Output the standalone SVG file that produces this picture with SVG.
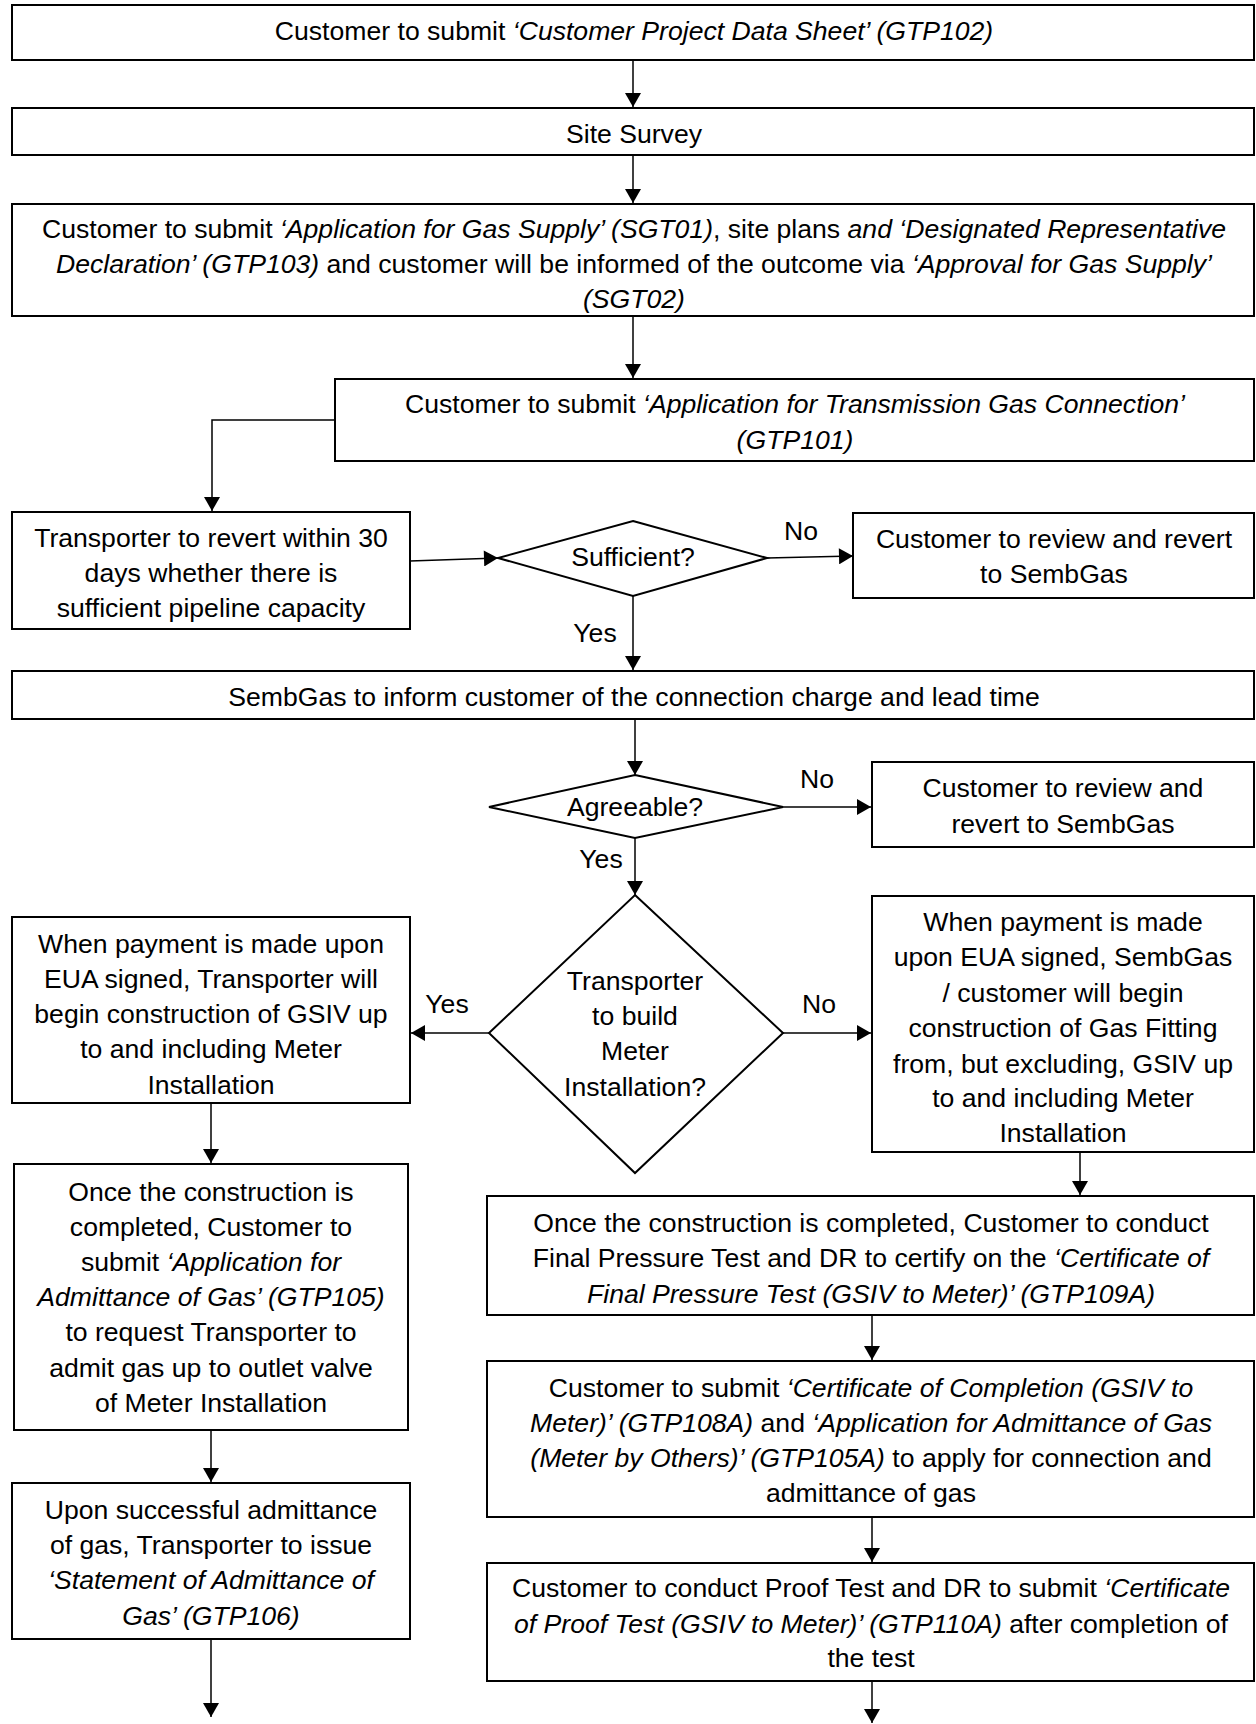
<svg xmlns="http://www.w3.org/2000/svg" width="1256" height="1724" viewBox="0 0 1256 1724">
<style>
.b{fill:#fff;stroke:#000;stroke-width:2}
.t{font-family:"Liberation Sans",Arial,sans-serif;font-size:26.6px;fill:#000;text-anchor:middle}
.i{font-style:italic}
.c{fill:none;stroke:#000;stroke-width:1.5}
</style>
<defs>
<marker id="ah" markerUnits="userSpaceOnUse" markerWidth="16" markerHeight="16" viewBox="0 0 14 16" refX="14" refY="8" orient="auto">
<path d="M0,0 L14,8 L0,16 Z" fill="#000"/>
</marker>
</defs>
<rect width="1256" height="1724" fill="#fff"/>

<g id="connectors">
<path class="c" d="M633,60 V107" marker-end="url(#ah)"/>
<path class="c" d="M633,155 V203" marker-end="url(#ah)"/>
<path class="c" d="M633,316 V378" marker-end="url(#ah)"/>
<path class="c" d="M335,420 H212 V511" marker-end="url(#ah)"/>
<path class="c" d="M410,561 L498,558" marker-end="url(#ah)"/>
<path class="c" d="M767,558 L853,556" marker-end="url(#ah)" stroke-width="2"/>
<path class="c" d="M633,596 V670" marker-end="url(#ah)"/>
<path class="c" d="M635,719 V775" marker-end="url(#ah)"/>
<path class="c" d="M783,807 H871" marker-end="url(#ah)" stroke-width="2"/>
<path class="c" d="M635,838 V895" marker-end="url(#ah)"/>
<path class="c" d="M489,1033 H411" marker-end="url(#ah)"/>
<path class="c" d="M783,1033 H871" marker-end="url(#ah)"/>
<path class="c" d="M211,1103 V1163" marker-end="url(#ah)"/>
<path class="c" d="M1080,1148 V1195" marker-end="url(#ah)"/>
<path class="c" d="M872,1315 V1360" marker-end="url(#ah)"/>
<path class="c" d="M872,1517 V1562" marker-end="url(#ah)"/>
<path class="c" d="M211,1386 V1482" marker-end="url(#ah)"/>
<path class="c" d="M211,1639 V1717" marker-end="url(#ah)"/>
<path class="c" d="M872,1681 V1723" marker-end="url(#ah)"/>
<text class="t" x="801" y="540">No</text>
<text class="t" x="595" y="642">Yes</text>
<text class="t" x="817" y="788">No</text>
<text class="t" x="601" y="868">Yes</text>
<text class="t" x="447" y="1013">Yes</text>
<text class="t" x="819" y="1013">No</text>
</g>

<g id="n1">
<rect class="b" x="12" y="5" width="1242" height="55"/>
<text class="t" x="634" y="40">Customer to submit <tspan class="i">‘Customer Project Data Sheet’ (GTP102)</tspan></text>
</g>

<g id="n2">
<rect class="b" x="12" y="108" width="1242" height="47"/>
<text class="t" x="634" y="143">Site Survey</text>
</g>

<g id="n3">
<rect class="b" x="12" y="204" width="1242" height="112"/>
<text class="t" x="634" y="238">Customer to submit <tspan class="i">‘Application for Gas Supply’ (SGT01)</tspan>, site plans <tspan class="i">and ‘Designated Representative</tspan></text>
<text class="t" x="634" y="273"><tspan class="i">Declaration’ (GTP103)</tspan> and customer will be informed of the outcome via <tspan class="i">‘Approval for Gas Supply’</tspan></text>
<text class="t i" x="634" y="308">(SGT02)</text>
</g>

<g id="n4">
<rect class="b" x="335" y="379" width="919" height="82"/>
<text class="t" x="795" y="413">Customer to submit <tspan class="i">‘Application for Transmission Gas Connection’</tspan></text>
<text class="t i" x="795" y="449">(GTP101)</text>
</g>

<g id="n5">
<rect class="b" x="12" y="512" width="398" height="117"/>
<text class="t" x="211" y="547">Transporter to revert within 30</text>
<text class="t" x="211" y="582">days whether there is</text>
<text class="t" x="211" y="617">sufficient pipeline capacity</text>
</g>

<g id="d1">
<path class="b" d="M633,521 L767,558 L633,596 L498,558 Z"/>
<text class="t" x="633" y="566">Sufficient?</text>
</g>

<g id="n6">
<rect class="b" x="853" y="513" width="401" height="85"/>
<text class="t" x="1054" y="548">Customer to review and revert</text>
<text class="t" x="1054" y="583">to SembGas</text>
</g>

<g id="n7">
<rect class="b" x="12" y="671" width="1242" height="48"/>
<text class="t" x="634" y="706">SembGas to inform customer of the connection charge and lead time</text>
</g>

<g id="d2">
<path class="b" d="M635,775 L783,807 L635,838 L489,807 Z"/>
<text class="t" x="635" y="816">Agreeable?</text>
</g>

<g id="n8">
<rect class="b" x="872" y="762" width="382" height="85"/>
<text class="t" x="1063" y="797">Customer to review and</text>
<text class="t" x="1063" y="833">revert to SembGas</text>
</g>

<g id="d3">
<path class="b" d="M635,895 L783,1033 L635,1173 L489,1033 Z"/>
<text class="t" x="635" y="990">Transporter</text>
<text class="t" x="635" y="1025">to build</text>
<text class="t" x="635" y="1060">Meter</text>
<text class="t" x="635" y="1096">Installation?</text>
</g>

<g id="n9">
<rect class="b" x="12" y="917" width="398" height="186"/>
<text class="t" x="211" y="953">When payment is made upon</text>
<text class="t" x="211" y="988">EUA signed, Transporter will</text>
<text class="t" x="211" y="1023">begin construction of GSIV up</text>
<text class="t" x="211" y="1058">to and including Meter</text>
<text class="t" x="211" y="1094">Installation</text>
</g>

<g id="n10">
<rect class="b" x="872" y="896" width="382" height="256"/>
<text class="t" x="1063" y="931">When payment is made</text>
<text class="t" x="1063" y="966">upon EUA signed, SembGas</text>
<text class="t" x="1063" y="1002">/ customer will begin</text>
<text class="t" x="1063" y="1037">construction of Gas Fitting</text>
<text class="t" x="1063" y="1073">from, but excluding, GSIV up</text>
<text class="t" x="1063" y="1107">to and including Meter</text>
<text class="t" x="1063" y="1142">Installation</text>
</g>

<g id="n11">
<rect class="b" x="14" y="1164" width="394" height="266"/>
<text class="t" x="211" y="1201">Once the construction is</text>
<text class="t" x="211" y="1236">completed, Customer to</text>
<text class="t" x="211" y="1271">submit <tspan class="i">‘Application for</tspan></text>
<text class="t i" x="211" y="1306">Admittance of Gas’ (GTP105)</text>
<text class="t" x="211" y="1341">to request Transporter to</text>
<text class="t" x="211" y="1377">admit gas up to outlet valve</text>
<text class="t" x="211" y="1412">of Meter Installation</text>
</g>

<g id="n12">
<rect class="b" x="487" y="1196" width="767" height="119"/>
<text class="t" x="871" y="1232">Once the construction is completed, Customer to conduct</text>
<text class="t" x="871" y="1267">Final Pressure Test and DR to certify on the <tspan class="i">‘Certificate of</tspan></text>
<text class="t i" x="871" y="1303">Final Pressure  Test (GSIV to Meter)’ (GTP109A)</text>
</g>

<g id="n13">
<rect class="b" x="487" y="1361" width="767" height="156"/>
<text class="t" x="871" y="1397">Customer to submit <tspan class="i">‘Certificate of Completion (GSIV to</tspan></text>
<text class="t" x="871" y="1432"><tspan class="i">Meter)’ (GTP108A)</tspan> and <tspan class="i">‘Application for Admittance of Gas</tspan></text>
<text class="t" x="871" y="1467"><tspan class="i">(Meter by Others)’ (GTP105A)</tspan> to apply for connection and</text>
<text class="t" x="871" y="1502">admittance of gas</text>
</g>

<g id="n14">
<rect class="b" x="487" y="1563" width="767" height="118"/>
<text class="t" x="871" y="1597">Customer to conduct Proof Test and DR to submit <tspan class="i">‘Certificate</tspan></text>
<text class="t" x="871" y="1633"><tspan class="i">of Proof Test (GSIV to Meter)’ (GTP110A)</tspan> after completion of</text>
<text class="t" x="871" y="1667">the test</text>
</g>

<g id="n15">
<rect class="b" x="12" y="1483" width="398" height="156"/>
<text class="t" x="211" y="1519">Upon successful admittance</text>
<text class="t" x="211" y="1554">of gas, Transporter to issue</text>
<text class="t i" x="211" y="1589">‘Statement of Admittance of</text>
<text class="t i" x="211" y="1625">Gas’ (GTP106)</text>
</g>
</svg>
